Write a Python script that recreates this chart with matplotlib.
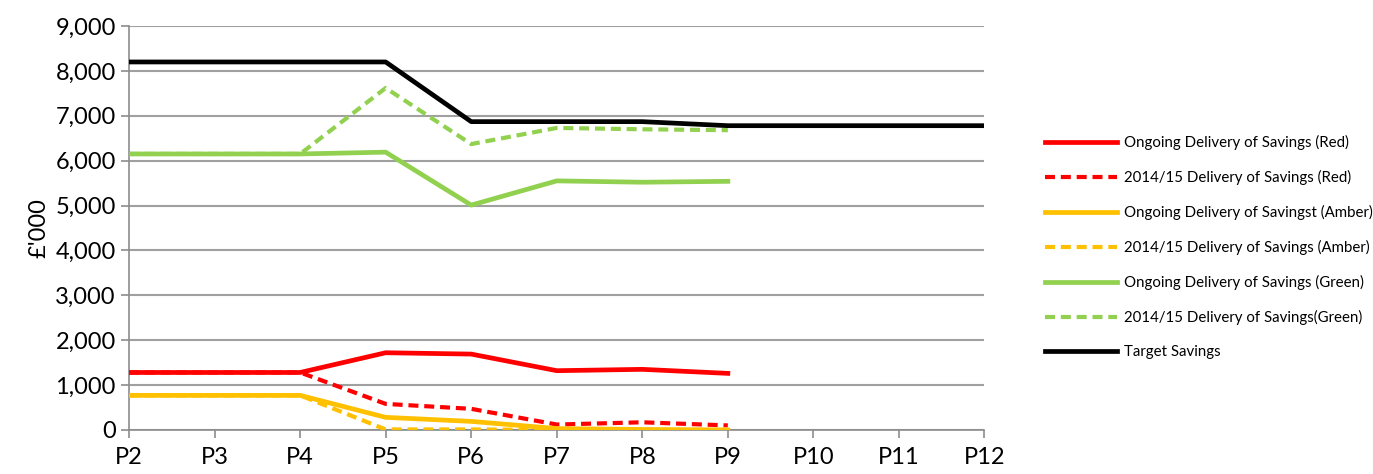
import matplotlib
matplotlib.use("Agg")
import matplotlib.pyplot as plt
from matplotlib.ticker import FuncFormatter

plt.rcParams['font.family'] = ['Lato', 'DejaVu Sans']

periods = ["P2", "P3", "P4", "P5", "P6", "P7", "P8", "P9", "P10", "P11", "P12"]

red_ongoing = [1280, 1280, 1280, 1720, 1690, 1320, 1350, 1260]
red_1415 = [1280, 1280, 1280, 580, 470, 120, 170, 100]
amber_ongoing = [770, 770, 770, 280, 190, 30, 10, 0]
amber_1415 = [770, 770, 770, 10, 10, 0, 0, 0]
green_ongoing = [6150, 6150, 6150, 6190, 5010, 5550, 5520, 5540]
green_1415 = [6150, 6150, 6150, 7620, 6370, 6730, 6700, 6680]
target = [8200, 8200, 8200, 8200, 6870, 6870, 6870, 6780, 6780, 6780, 6780]

labels = [
    "Ongoing Delivery of Savings (Red)",
    "2014/15 Delivery of Savings (Red)",
    "Ongoing Delivery of Savingst (Amber)",
    "2014/15 Delivery of Savings (Amber)",
    "Ongoing Delivery of Savings (Green)",
    "2014/15 Delivery of Savings(Green)",
    "Target Savings",
]

red = "#FF0000"
amber = "#FFC000"
green = "#92D050"

fig = plt.figure(figsize=(13.73, 4.74), dpi=100)
ax = fig.add_axes([0.094, 0.093, 0.623, 0.852])

x = list(range(len(periods)))
lw = 3.4
dash = (0, (2.4, 1.4))
ax.plot(x[:len(red_ongoing)], red_ongoing, color=red, lw=lw, label=labels[0], zorder=4)
ax.plot(x[:len(red_1415)], red_1415, color=red, lw=lw - 0.4, ls=dash, label=labels[1], zorder=3)
ax.plot(x[:len(amber_ongoing)], amber_ongoing, color=amber, lw=lw, label=labels[2], zorder=4)
ax.plot(x[:len(amber_1415)], amber_1415, color=amber, lw=lw - 0.4, ls=dash, label=labels[3], zorder=3)
ax.plot(x[:len(green_ongoing)], green_ongoing, color=green, lw=lw, label=labels[4], zorder=4)
ax.plot(x[:len(green_1415)], green_1415, color=green, lw=lw - 0.4, ls=dash, label=labels[5], zorder=3)
ax.plot(x, target, color="black", lw=lw, label=labels[6], zorder=5)

ax.set_xlim(0, len(periods) - 1)
ax.set_ylim(0, 9000)
ax.set_xticks(x)
ax.set_xticklabels(periods)
ax.set_yticks(range(0, 9001, 1000))
ax.yaxis.set_major_formatter(FuncFormatter(lambda v, p: f"{int(v):,}"))
ax.tick_params(axis="both", labelsize=17, color="#8C8C8C", length=6, width=1.2)
ax.tick_params(axis="x", pad=6)
ax.grid(axis="y", color="#A0A0A0", lw=1.5)
ax.set_axisbelow(True)
for s in ["top", "right"]:
    ax.spines[s].set_visible(False)
for s in ["left", "bottom"]:
    ax.spines[s].set_color("#8C8C8C")
    ax.spines[s].set_linewidth(1.2)
ax.set_ylabel("£'000", fontsize=17, labelpad=4)

fig.legend(loc="upper left", bbox_to_anchor=(0.757, 0.728), frameon=False,
           fontsize=10.8, handlelength=4.8, handletextpad=0.45, labelspacing=1.33,
           borderaxespad=0)

fig.savefig("out.png", dpi=100)
